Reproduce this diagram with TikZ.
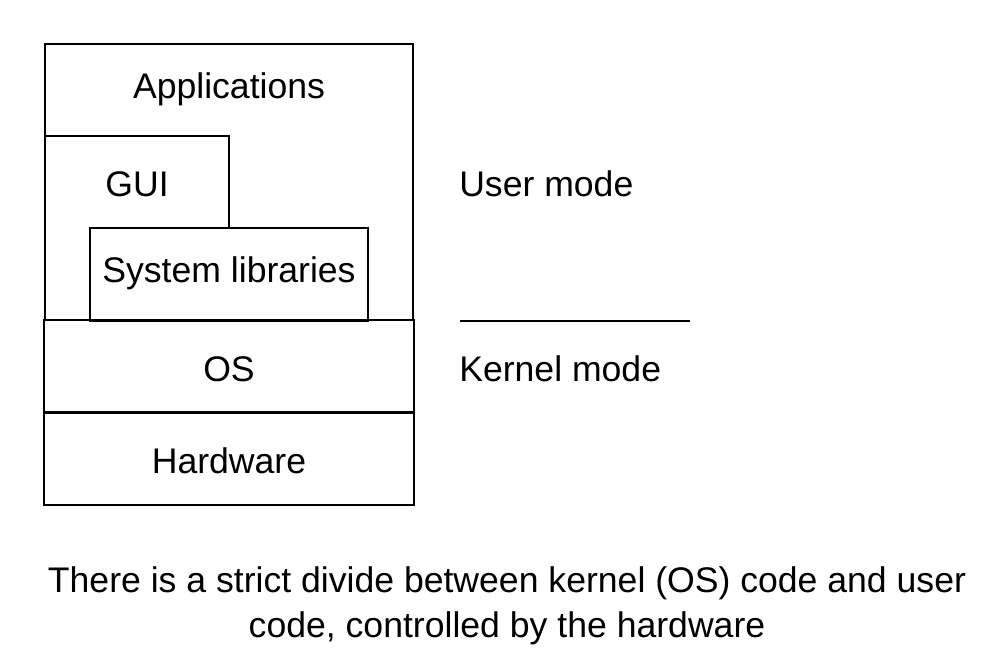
\documentclass[tikz,border=0pt]{standalone}
\usepackage{fontspec}
\setmainfont{Liberation Sans}
\begin{document}
\begin{tikzpicture}[x=0.5pt, y=-0.5pt, line width=0.6pt, every node/.style={font=\fontsize{17.8}{22.5}\selectfont}]
	\useasboundingbox (0, 0) rectangle (984, 672);
	\draw (45, 44) rectangle (413, 320);
	\draw (45, 136) rectangle (229, 320);
	\draw[fill=white] (90, 228) rectangle (368, 321);
	\draw (44, 320) rectangle (414, 412);
	\draw (44, 413) rectangle (414, 505);
	\node (apps) at (229, 89) {Applications};
	\node (gui) at (137, 184) {GUI};
	\node (syslib) at (229, 273) {System libraries};
	\node (os) at (229, 369) {OS};
	\node (hw) at (229, 461) {Hardware};
	\coordinate (divl) at (460, 321);
	\coordinate (divr) at (690, 321);
	\draw (divl) -- (divr);
	\node[anchor=west] (user) at (452, 184) {User mode};
	\node[anchor=west] (kernel) at (452, 369) {Kernel mode};
	\node[align=center] (caption) at (507, 606) {There is a strict divide between kernel (OS) code and user\\code, controlled by the hardware};
\end{tikzpicture}
\end{document}
